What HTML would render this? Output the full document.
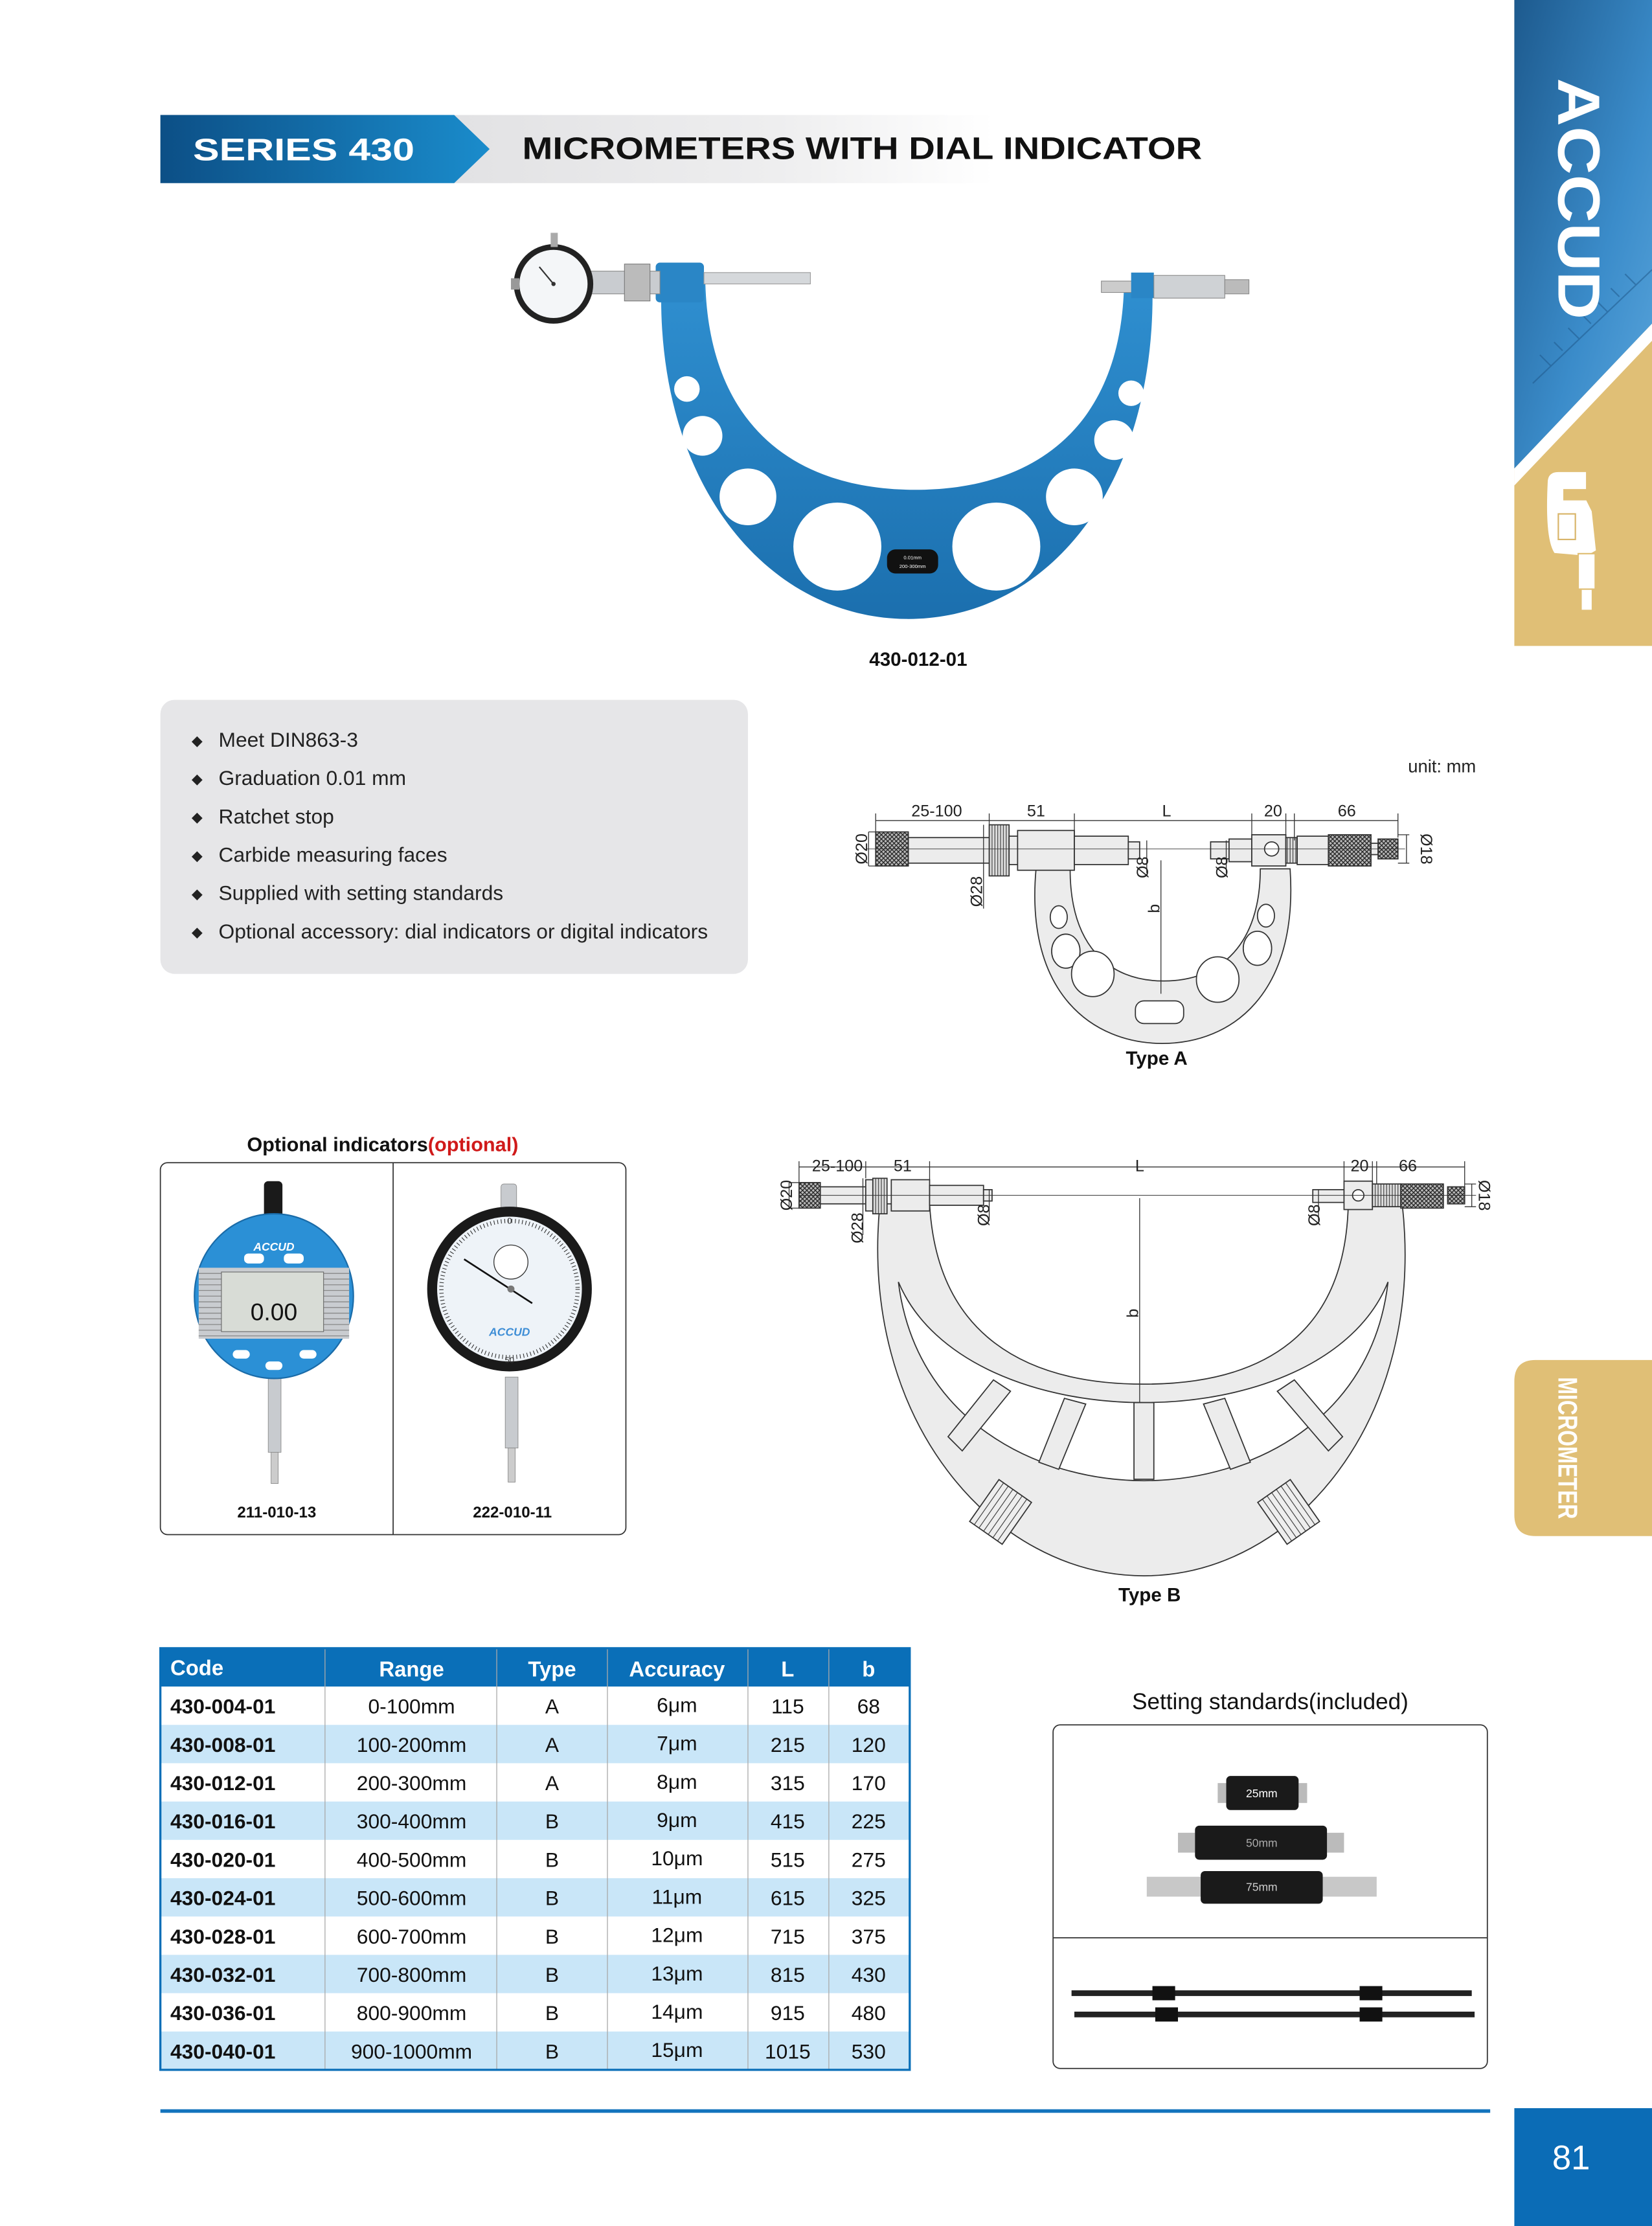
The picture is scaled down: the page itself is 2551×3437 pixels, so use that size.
<!DOCTYPE html>
<html><head><meta charset="utf-8"><style>
html,body{margin:0;padding:0;background:#fff;}
svg{display:block;}
text{font-family:"Liberation Sans",Arial,sans-serif;}
</style></head><body>
<svg width="2551" height="3437" viewBox="0 0 1164 1568" preserveAspectRatio="none" xmlns="http://www.w3.org/2000/svg">
<defs>
<linearGradient id="hb" x1="0" x2="1"><stop offset="0" stop-color="#0c4f86"/><stop offset="1" stop-color="#1a8ccc"/></linearGradient>
<linearGradient id="hg" x1="0" x2="1"><stop offset="0" stop-color="#e2e2e4"/><stop offset="0.6" stop-color="#eeeeef"/><stop offset="1" stop-color="#ffffff"/></linearGradient>
<linearGradient id="sb" x1="0" y1="0" x2="1" y2="1"><stop offset="0" stop-color="#1d5a8e"/><stop offset="0.6" stop-color="#3b8cca"/><stop offset="1" stop-color="#5ba6dc"/></linearGradient>
<linearGradient id="blu" x1="0" y1="0" x2="0" y2="1"><stop offset="0" stop-color="#2f8fd0"/><stop offset="1" stop-color="#1b6fae"/></linearGradient>
<pattern id="kn" width="3" height="3" patternUnits="userSpaceOnUse"><rect width="3" height="3" fill="#bbb"/><path d="M0 0L3 3M3 0L0 3" stroke="#222" stroke-width="0.6"/></pattern>
<pattern id="vl" width="2" height="3" patternUnits="userSpaceOnUse"><rect width="2" height="3" fill="#ddd"/><path d="M1 0V3" stroke="#333" stroke-width="0.5"/></pattern>
<pattern id="dl" width="4" height="4" patternUnits="userSpaceOnUse" patternTransform="rotate(0)"><rect width="4" height="4" fill="#eee"/><path d="M0 2H4" stroke="#333" stroke-width="0.5"/></pattern>
</defs>

<!-- header -->
<rect x="320" y="81" width="380" height="48" fill="url(#hg)"/>
<polygon points="113,81 320,81 345,105 320,129 113,129" fill="url(#hb)"/>
<text x="136" y="113" font-size="22" font-weight="bold" fill="#fff" textLength="156" lengthAdjust="spacingAndGlyphs">SERIES 430</text>
<text x="368" y="112" font-size="22" font-weight="bold" fill="#111" textLength="479" lengthAdjust="spacingAndGlyphs">MICROMETERS WITH DIAL INDICATOR</text>

<!-- right strip -->
<rect x="1067" y="0" width="97" height="455" fill="#e0bf76"/>
<polygon points="1067,0 1164,0 1164,228 1067,330" fill="url(#sb)"/>
<polygon points="1067,330 1164,228 1164,240 1067,342" fill="#fff"/>
<g stroke="#1e5688" stroke-width="1" opacity="0.5"><path d="M1080 270 L1164 190"/><path d="M1085 250l8 8M1095 241l6 6M1105 231l8 8M1115 222l6 6M1125 212l8 8M1135 203l6 6M1145 193l8 8"/></g>
<text transform="translate(1098,55) rotate(90)" font-size="42" font-weight="bold" fill="#fff" textLength="170" lengthAdjust="spacingAndGlyphs">ACCUD</text>
<g fill="#fff" stroke="#e0bf76" stroke-width="1">
<path d="M1090 340 Q1090 332 1098 332 L1118 332 L1118 345 L1102 345 L1102 352 L1118 352 L1122 360 L1125 388 L1118 392 L1095 390 Q1088 380 1090 340Z"/>
<rect x="1112" y="390" width="12" height="25"/><rect x="1114" y="415" width="8" height="15"/>
<rect x="1098" y="362" width="12" height="18" fill="none" stroke="#d9b56a"/>
</g>

<!-- MICROMETER tab -->
<path d="M1164 958 L1082 958 Q1067 958 1067 973 L1067 1067 Q1067 1082 1082 1082 L1164 1082Z" fill="#e0bf76"/>
<text transform="translate(1098,970) rotate(90)" font-size="19" font-weight="bold" fill="#fff" textLength="100" lengthAdjust="spacingAndGlyphs">MICROMETER</text>

<!-- page number -->
<rect x="1067" y="1485" width="97" height="83" fill="#0b6cb6"/>
<text x="1107" y="1528" font-size="24" fill="#fff" text-anchor="middle">81</text>
<line x1="113" y1="1487" x2="1050" y2="1487" stroke="#1474bd" stroke-width="2.5"/>

<!-- blue micrometer photo -->
<path d="M466 200 L497 200 C500 300 560 345 645 345 C730 345 790 300 792 200 L812 200 C815 340 740 436 640 436 C540 436 462 340 466 200Z" fill="url(#blu)"/>
<rect x="462" y="185" width="34" height="28" rx="3" fill="#2a86c6"/>
<g fill="#fff"><circle cx="484" cy="274" r="9"/><circle cx="797" cy="277" r="9"/><circle cx="495" cy="307" r="14"/><circle cx="785" cy="310" r="14"/><circle cx="527" cy="350" r="20"/><circle cx="757" cy="350" r="20"/><circle cx="590" cy="385" r="31"/><circle cx="702" cy="385" r="31"/></g>
<rect x="625" y="387" width="36" height="17" rx="6" fill="#111"/>
<text x="643" y="394" font-size="3.5" fill="#fff" text-anchor="middle">0.01mm</text><text x="643" y="400" font-size="3.5" fill="#fff" text-anchor="middle">200-300mm</text>
<rect x="496" y="192" width="75" height="8" fill="#d5d8db" stroke="#999" stroke-width="0.5"/>
<rect x="415" y="191" width="50" height="16" fill="#c9ccd0" stroke="#888" stroke-width="0.5"/>
<rect x="440" y="186" width="18" height="26" fill="#bbb" stroke="#777" stroke-width="0.5"/>
<circle cx="390" cy="200" r="28" fill="#222"/><circle cx="390" cy="200" r="24" fill="#f4f6f8"/>
<circle cx="390" cy="200" r="1.5" fill="#333"/><line x1="390" y1="200" x2="380" y2="188" stroke="#333"/>
<rect x="360" y="196" width="6" height="8" fill="#999"/>
<rect x="388" y="164" width="5" height="10" fill="#aaa"/>
<rect x="776" y="198" width="22" height="8" fill="#ccc" stroke="#888" stroke-width="0.5"/>
<rect x="797" y="192" width="16" height="18" fill="#2a86c6"/>
<rect x="813" y="194" width="50" height="16" fill="#cfd2d5" stroke="#888" stroke-width="0.5"/>
<rect x="863" y="197" width="17" height="10" fill="#bbb" stroke="#888" stroke-width="0.5"/>
<text x="647" y="469" font-size="13.5" font-weight="bold" fill="#111" text-anchor="middle">430-012-01</text>

<!-- features -->
<rect x="113" y="493" width="414" height="193" rx="10" fill="#e6e6e8"/>
<g font-size="14.5" fill="#222">
<text x="135" y="525" font-size="10">◆</text><text x="154" y="526">Meet DIN863-3</text>
<text x="135" y="552" font-size="10">◆</text><text x="154" y="553">Graduation 0.01 mm</text>
<text x="135" y="579" font-size="10">◆</text><text x="154" y="580">Ratchet stop</text>
<text x="135" y="606" font-size="10">◆</text><text x="154" y="607">Carbide measuring faces</text>
<text x="135" y="633" font-size="10">◆</text><text x="154" y="634">Supplied with setting standards</text>
<text x="135" y="660" font-size="10">◆</text><text x="154" y="661">Optional accessory: dial indicators or digital indicators</text>
</g>

<!-- Type A -->
<text x="1040" y="544" font-size="12.5" fill="#222" text-anchor="end">unit: mm</text>
<g stroke="#333" stroke-width="0.8" fill="#ececec">
<path d="M730 612 C722 700 770 735 819 735 C868 735 915 700 909 612 L888 612 C888 665 860 691 820 691 C780 691 754 665 754 612Z"/>
<ellipse cx="746" cy="646" rx="6" ry="8" fill="#fff"/><ellipse cx="751" cy="670" rx="10" ry="12" fill="#fff"/><ellipse cx="770" cy="686" rx="15" ry="16" fill="#fff"/>
<ellipse cx="892" cy="645" rx="6" ry="8" fill="#fff"/><ellipse cx="886" cy="668" rx="10" ry="12" fill="#fff"/><ellipse cx="858" cy="690" rx="15" ry="16" fill="#fff"/>
<rect x="800" y="705" width="34" height="16" rx="6" fill="#fff"/>
<rect x="640" y="590" width="58" height="18"/>
<rect x="617" y="586" width="23" height="24" fill="url(#kn)"/>
<rect x="697" y="581" width="14" height="36" fill="url(#vl)"/>
<rect x="711" y="589" width="6" height="20"/>
<rect x="717" y="585" width="40" height="28"/>
<rect x="757" y="589" width="38" height="20"/>
<rect x="795" y="593" width="8" height="12"/>
<rect x="853" y="593" width="13" height="12"/>
<rect x="866" y="591" width="16" height="16"/>
<rect x="882" y="588" width="24" height="22"/>
<circle cx="896" cy="598" r="5" fill="#fff"/>
<rect x="906" y="590" width="8" height="18" fill="url(#vl)"/>
<rect x="914" y="589" width="22" height="20"/>
<rect x="936" y="588" width="30" height="22" fill="url(#kn)"/>
<rect x="966" y="594" width="5" height="8"/>
<rect x="971" y="591" width="14" height="14" fill="url(#kn)"/>
</g>
<g stroke="#333" stroke-width="0.6" fill="none">
<path d="M617 578H985M617 573V587M697 573V581M757 573V589M882 573V588M906 573V590M912 573V592M985 573V590"/>
<path d="M612 586V610M612 586H617M612 610H617"/>
<path d="M693 581V640M808 592V615M864 592V615"/>
<path d="M991 588V608M985 588H993M985 608H993"/>
<path d="M610 598H990" stroke-width="0.4"/>
<path d="M818 606V700"/>
</g>
<g font-size="11.5" fill="#222" text-anchor="middle">
<text x="660" y="575">25-100</text><text x="730" y="575">51</text><text x="822" y="575">L</text><text x="897" y="575">20</text><text x="949" y="575">66</text>
<text transform="translate(611,598) rotate(-90)">Ø20</text>
<text transform="translate(692,628) rotate(-90)">Ø28</text>
<text transform="translate(809,611) rotate(-90)">Ø8</text>
<text transform="translate(865,611) rotate(-90)">Ø8</text>
<text transform="translate(1001,598) rotate(90)">Ø18</text>
<text transform="translate(817,640) rotate(-90)">b</text>
</g>
<text x="815" y="750" font-size="13.5" font-weight="bold" fill="#111" text-anchor="middle">Type A</text>

<!-- Type B -->
<g stroke="#333" stroke-width="0.8" fill="#ececec">
<path d="M620 848 C605 1000 700 1110 806 1110 C912 1110 1005 1000 988 848 L950 848 C948 940 890 975 806 975 C722 975 660 940 655 848Z"/>
<path d="M633 903 C645 1000 730 1043 806 1043 C882 1043 967 1000 978 903 C955 960 880 988 806 988 C732 988 657 960 633 903Z" fill="#fff"/>
<g>
<polygon points="799,988 813,988 813,1042 799,1042"/>
<polygon points="750,985 765,989 746,1035 732,1030"/>
<polygon points="848,989 863,985 881,1030 867,1035"/>
<polygon points="700,972 712,980 678,1022 668,1012"/>
<polygon points="900,980 912,972 946,1012 936,1022"/>
</g>
<rect x="-18" y="-14" width="36" height="28" fill="url(#dl)" transform="translate(705,1065) rotate(-55)"/>
<rect x="-18" y="-14" width="36" height="28" fill="url(#dl)" transform="translate(908,1065) rotate(55)"/>
<rect x="563" y="833" width="15" height="18" fill="url(#kn)"/>
<rect x="578" y="836" width="32" height="12"/>
<rect x="610" y="831" width="5" height="22"/>
<rect x="615" y="830" width="10" height="25" fill="url(#vl)"/>
<rect x="628" y="831" width="27" height="22"/>
<rect x="655" y="835" width="38" height="14"/>
<rect x="693" y="838" width="6" height="8"/>
<rect x="925" y="838" width="22" height="9"/>
<rect x="947" y="832" width="20" height="20"/>
<circle cx="957" cy="842" r="4" fill="#fff"/>
<rect x="967" y="834" width="20" height="16" fill="url(#vl)"/>
<rect x="987" y="834" width="30" height="17" fill="url(#kn)"/>
<rect x="1020" y="836" width="12" height="12" fill="url(#kn)"/>
</g>
<g stroke="#333" stroke-width="0.6" fill="none">
<path d="M563 822H1032M563 818V833M610 818V830M655 818V831M947 818V832M967 818V832M970 818V834M1032 818V836"/>
<path d="M556 833V851M556 833H563M556 851H563"/>
<path d="M608 830V870M697 838V860M929 838V860"/>
<path d="M1037 834V850M1032 834H1040M1032 850H1040"/>
<path d="M563 842H1040" stroke-width="0.5"/>
<path d="M803 844V988"/>
</g>
<g font-size="11.5" fill="#222" text-anchor="middle">
<text x="590" y="825">25-100</text><text x="636" y="825">51</text><text x="803" y="825">L</text><text x="958" y="825">20</text><text x="992" y="825">66</text>
<text transform="translate(558,842) rotate(-90)">Ø20</text>
<text transform="translate(608,865) rotate(-90)">Ø28</text>
<text transform="translate(697,856) rotate(-90)">Ø8</text>
<text transform="translate(930,856) rotate(-90)">Ø8</text>
<text transform="translate(1042,842) rotate(90)">Ø18</text>
<text transform="translate(802,925) rotate(-90)">b</text>
</g>
<text x="810" y="1128" font-size="13.5" font-weight="bold" fill="#111" text-anchor="middle">Type B</text>

<!-- optional indicators -->
<text x="174" y="811" font-size="14" font-weight="bold" fill="#111">Optional indicators<tspan fill="#d01a1a">(optional)</tspan></text>
<rect x="113" y="819" width="328" height="262" rx="5" fill="#fff" stroke="#333" stroke-width="0.8"/>
<line x1="277" y1="819" x2="277" y2="1081" stroke="#333" stroke-width="0.8"/>
<!-- digital -->
<rect x="186" y="832" width="13" height="40" rx="3" fill="#1a1a1a"/>
<rect x="189" y="968" width="9" height="55" fill="#c8cbcf" stroke="#888" stroke-width="0.4"/>
<rect x="191" y="1023" width="5" height="22" fill="#ccc" stroke="#888" stroke-width="0.4"/>
<ellipse cx="193" cy="913" rx="56" ry="58" fill="#2b90d6" stroke="#1a6ba8"/>
<rect x="140" y="893" width="106" height="50" fill="#c9ccd0"/>
<g stroke="#888" stroke-width="0.6"><path d="M140 897H246M140 901H246M140 905H246M140 909H246M140 913H246M140 917H246M140 921H246M140 925H246M140 929H246M140 933H246M140 937H246M140 941H246"/></g>
<rect x="156" y="896" width="72" height="42" fill="#d8dcd6" stroke="#666" stroke-width="0.5"/>
<text x="193" y="930" font-size="17" fill="#111" text-anchor="middle">0.00</text>
<text x="193" y="881" font-size="8" font-weight="bold" font-style="italic" fill="#fff" text-anchor="middle">ACCUD</text>
<rect x="172" y="883" width="14" height="7" rx="3" fill="#fff"/><rect x="200" y="883" width="14" height="7" rx="3" fill="#fff"/>
<rect x="164" y="951" width="12" height="6" rx="3" fill="#fff"/><rect x="187" y="959" width="12" height="6" rx="3" fill="#fff"/><rect x="211" y="951" width="12" height="6" rx="3" fill="#fff"/>
<text x="195" y="1069" font-size="11" font-weight="bold" fill="#111" text-anchor="middle">211-010-13</text>
<!-- dial -->
<rect x="353" y="834" width="11" height="30" rx="2" fill="#c8cbcf" stroke="#888" stroke-width="0.4"/>
<rect x="356" y="970" width="9" height="50" fill="#c8cbcf" stroke="#888" stroke-width="0.4"/>
<rect x="358" y="1020" width="5" height="24" fill="#ccc" stroke="#888" stroke-width="0.4"/>
<circle cx="359" cy="908" r="58" fill="#1a1a1a"/>
<circle cx="359" cy="908" r="51" fill="#eef3f8"/>
<circle cx="359" cy="908" r="48" fill="none" stroke="#333" stroke-width="3" stroke-dasharray="0.5 2"/>
<circle cx="360" cy="889" r="12" fill="#fff" stroke="#333" stroke-width="0.6"/>
<line x1="327" y1="887" x2="375" y2="918" stroke="#111" stroke-width="1.2"/>
<circle cx="360" cy="908" r="2.5" fill="#777"/>
<text x="359" y="941" font-size="8" font-weight="bold" font-style="italic" fill="#3f8ed6" text-anchor="middle">ACCUD</text>
<text x="359" y="862" font-size="6" fill="#333" text-anchor="middle">0</text>
<text x="359" y="960" font-size="6" fill="#333" text-anchor="middle">50</text>
<text x="361" y="1069" font-size="11" font-weight="bold" fill="#111" text-anchor="middle">222-010-11</text>

<!-- table -->
<rect x="113" y="1161" width="528" height="27" fill="#0a6fb8"/>
<g fill="#c9e6f8">
<rect x="113" y="1215" width="528" height="27"/><rect x="113" y="1269" width="528" height="27"/><rect x="113" y="1323" width="528" height="27"/><rect x="113" y="1377" width="528" height="27"/><rect x="113" y="1431" width="528" height="27"/>
</g>
<g stroke="#aaa" stroke-width="0.6">
<path d="M229 1161V1458M350 1161V1458M428 1161V1458M527 1161V1458M584 1161V1458"/>
</g>
<rect x="113" y="1161" width="528" height="297" fill="none" stroke="#0a6fb8" stroke-width="1.5"/>
<g font-size="15" font-weight="bold" fill="#fff" text-anchor="middle">
<text x="120" y="1180" text-anchor="start">Code</text><text x="290" y="1181">Range</text><text x="389" y="1181">Type</text><text x="477" y="1181">Accuracy</text><text x="555" y="1181">L</text><text x="612" y="1181">b</text>
</g>
<g font-size="14.5" fill="#111" text-anchor="middle">
<g font-weight="bold" text-anchor="start">
<text x="120" y="1207">430-004-01</text><text x="120" y="1234">430-008-01</text><text x="120" y="1261">430-012-01</text><text x="120" y="1288">430-016-01</text><text x="120" y="1315">430-020-01</text><text x="120" y="1342">430-024-01</text><text x="120" y="1369">430-028-01</text><text x="120" y="1396">430-032-01</text><text x="120" y="1423">430-036-01</text><text x="120" y="1450">430-040-01</text>
</g>
<text x="290" y="1207">0-100mm</text><text x="290" y="1234">100-200mm</text><text x="290" y="1261">200-300mm</text><text x="290" y="1288">300-400mm</text><text x="290" y="1315">400-500mm</text><text x="290" y="1342">500-600mm</text><text x="290" y="1369">600-700mm</text><text x="290" y="1396">700-800mm</text><text x="290" y="1423">800-900mm</text><text x="290" y="1450">900-1000mm</text>
<text x="389" y="1207">A</text><text x="389" y="1234">A</text><text x="389" y="1261">A</text><text x="389" y="1288">B</text><text x="389" y="1315">B</text><text x="389" y="1342">B</text><text x="389" y="1369">B</text><text x="389" y="1396">B</text><text x="389" y="1423">B</text><text x="389" y="1450">B</text>
<text x="477" y="1206">6μm</text><text x="477" y="1233">7μm</text><text x="477" y="1260">8μm</text><text x="477" y="1287">9μm</text><text x="477" y="1314">10μm</text><text x="477" y="1341">11μm</text><text x="477" y="1368">12μm</text><text x="477" y="1395">13μm</text><text x="477" y="1422">14μm</text><text x="477" y="1449">15μm</text>
<text x="555" y="1207">115</text><text x="555" y="1234">215</text><text x="555" y="1261">315</text><text x="555" y="1288">415</text><text x="555" y="1315">515</text><text x="555" y="1342">615</text><text x="555" y="1369">715</text><text x="555" y="1396">815</text><text x="555" y="1423">915</text><text x="555" y="1450">1015</text>
<text x="612" y="1207">68</text><text x="612" y="1234">120</text><text x="612" y="1261">170</text><text x="612" y="1288">225</text><text x="612" y="1315">275</text><text x="612" y="1342">325</text><text x="612" y="1369">375</text><text x="612" y="1396">430</text><text x="612" y="1423">480</text><text x="612" y="1450">530</text>
</g>

<!-- setting standards -->
<text x="895" y="1204" font-size="16" fill="#111" text-anchor="middle">Setting standards(included)</text>
<rect x="742" y="1215" width="306" height="242" rx="5" fill="#fff" stroke="#333" stroke-width="0.8"/>
<line x1="742" y1="1365" x2="1048" y2="1365" stroke="#333" stroke-width="0.8"/>
<rect x="858" y="1256" width="6" height="14" fill="#bbb"/><rect x="915" y="1256" width="6" height="14" fill="#bbb"/>
<rect x="864" y="1251" width="51" height="24" rx="3" fill="#1a1a1a"/>
<text x="889" y="1266" font-size="8" fill="#fff" text-anchor="middle">25mm</text>
<rect x="830" y="1291" width="12" height="14" fill="#bbb"/><rect x="935" y="1291" width="12" height="14" fill="#bbb"/>
<rect x="842" y="1286" width="93" height="24" rx="3" fill="#1a1a1a"/>
<text x="889" y="1301" font-size="8" fill="#aaa" text-anchor="middle">50mm</text>
<rect x="808" y="1322" width="40" height="14" fill="#c8c8c8"/><rect x="930" y="1322" width="40" height="14" fill="#c8c8c8"/>
<rect x="846" y="1318" width="86" height="23" rx="3" fill="#1a1a1a"/>
<text x="889" y="1332" font-size="8" fill="#ccc" text-anchor="middle">75mm</text>
<rect x="755" y="1402" width="282" height="4" fill="#222"/>
<rect x="812" y="1399" width="16" height="10" fill="#111"/><rect x="958" y="1399" width="16" height="10" fill="#111"/>
<rect x="757" y="1417" width="282" height="4" fill="#222"/>
<rect x="814" y="1414" width="16" height="10" fill="#111"/><rect x="958" y="1414" width="16" height="10" fill="#111"/>
</svg>
</body></html>
